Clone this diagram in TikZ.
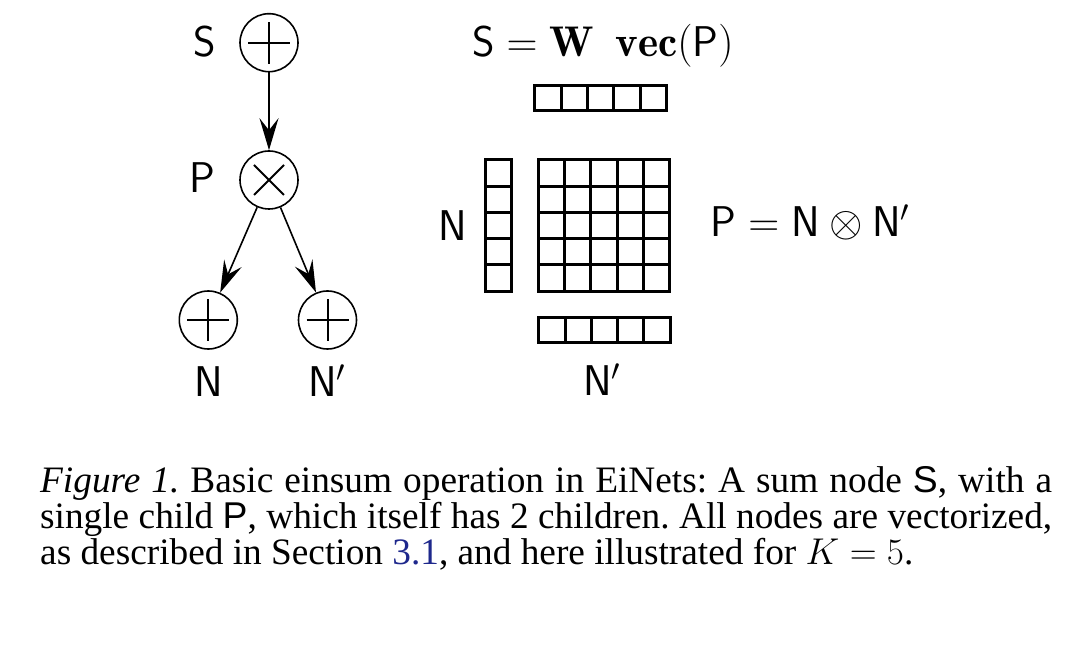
\RequirePackage{fix-cm}
\documentclass[tikz,border=0pt]{standalone}
\usepackage{fontspec}
\newfontfamily\capfont{Liberation Serif}
\newfontfamily\capsans{Liberation Sans}
\usetikzlibrary{arrows.meta}
\definecolor{linkblue}{RGB}{30,40,140}
\frenchspacing
\begin{document}
\begin{tikzpicture}[x=1pt,y=-1pt,
  opnode/.style={circle, draw, line width=1.6pt, minimum size=58pt, inner sep=0pt},
  sumnode/.style={opnode, path picture={
    \draw[line width=2pt] ([xshift=-21pt]path picture bounding box.center) -- ([xshift=21pt]path picture bounding box.center)
                          ([yshift=-21pt]path picture bounding box.center) -- ([yshift=21pt]path picture bounding box.center);}},
  prodnode/.style={opnode, path picture={
    \draw[line width=2pt] ([shift={(-15pt,-15pt)}]path picture bounding box.center) -- ([shift={(15pt,15pt)}]path picture bounding box.center)
                          ([shift={(-15pt,15pt)}]path picture bounding box.center) -- ([shift={(15pt,-15pt)}]path picture bounding box.center);}},
  lbl/.style={font=\fontsize{43}{50}\selectfont, inner sep=0pt, anchor=base},
  edge/.style={line width=1.6pt, -{Stealth[length=32pt,width=19pt,inset=12pt]}},
  cellgrid/.style={line width=3pt, line join=miter},
]
\useasboundingbox (0,0) rectangle (1080,660);

% tree
\node[sumnode]  (S)  at (269,42.7) {};
\node[prodnode] (P)  at (269,180) {};
\node[sumnode]  (N)  at (208.3,320) {};
\node[sumnode]  (N2) at (327.5,320) {};
\draw[edge] (S) -- (P);
\draw[edge] (P) -- (N);
\draw[edge] (P) -- (N2);

\node[lbl] (lS)  at (205,57)    {$\mathsf{S}$};
\node[lbl] (lP)  at (202.5,192.5) {$\mathsf{P}$};
\node[lbl] (lN)  at (209,397)   {$\mathsf{N}$};
\node[lbl] (lN2) at (327,397)   {$\mathsf{N}'$};

% equations and labels
\node[lbl] (eqS) at (603,57)  {$\mathsf{S} = \mathbf{W}\hspace{0.5em}\mathbf{vec}(\mathsf{P})$};
\node[lbl] (eqP) at (810,237) {$\mathsf{P} = \mathsf{N} \otimes \mathsf{N}'$};
\node[lbl] (gN)  at (452.5,240.5) {$\mathsf{N}$};
\node[lbl] (gN2) at (602,396)   {$\mathsf{N}'$};

% top bar (S)
\foreach \i in {0,...,4}
  \draw[cellgrid] (534.8+26.3*\i,85.5) rectangle ++(26.3,25);
% left column (N)
\foreach \j in {0,...,4}
  \draw[cellgrid] (485.5,159.8+26.28*\j) rectangle ++(25.7,26.28);
% matrix (P)
\foreach \i in {0,...,4}
  \foreach \j in {0,...,4}
    \draw[cellgrid] (538.8+26.08*\i,159.8+26.28*\j) rectangle ++(26.08,26.28);
% bottom bar (N')
\foreach \i in {0,...,4}
  \draw[cellgrid] (538.8+26.28*\i,317.5) rectangle ++(26.28,25);

% caption
\node[anchor=north west, text width=1012pt, align=justify, inner sep=0pt,
      font=\capfont\fontsize{37.3}{36}\selectfont] (cap) at (40,466)
 {\textit{Figure 1.} Basic einsum operation in EiNets: A sum node {\capsans S}, with a\linebreak
  single child {\capsans P}, which itself has 2 children. All nodes are vectorized,\linebreak
  as described in Section {\color{linkblue}3.1}, and here illustrated for $K=5$.};
\end{tikzpicture}
\end{document}
